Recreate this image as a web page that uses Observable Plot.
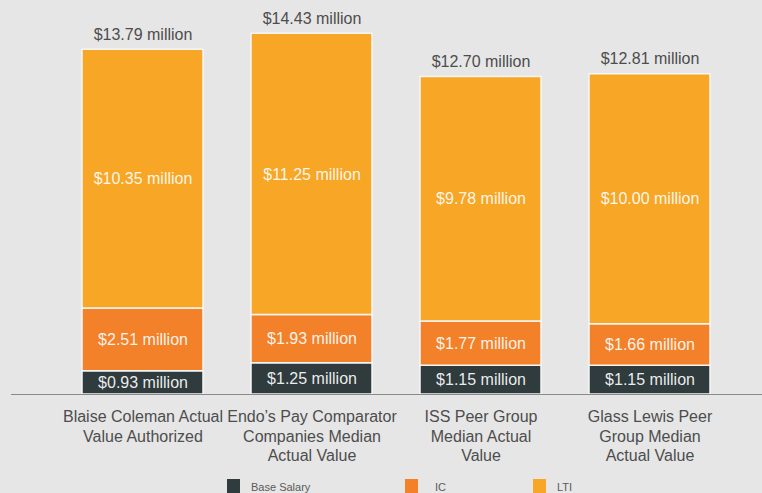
<!DOCTYPE html>
<html>
<head>
<meta charset="utf-8">
<script src="https://cdn.jsdelivr.net/npm/d3@7"></script>
<script src="https://cdn.jsdelivr.net/npm/@observablehq/plot@0.6"></script>
<style>
  html, body { margin: 0; padding: 0; background: #e6e6e6; width: 762px; height: 493px; overflow: hidden; }
  #wrap { position: relative; width: 762px; height: 493px; font-family: "Liberation Sans", Arial, sans-serif; }
  #wrap svg { position: absolute; left: 0; top: 0; }
  .sw { position: absolute; width: 13px; height: 14px; top: 479px; }
  .lt { position: absolute; top: 482px; font-size: 11px; line-height: 11px; color: #5a5a5a; }
</style>
</head>
<body>
<div id="wrap"></div>
<script>
const categories = [
  "Blaise Coleman Actual\nValue Authorized",
  "Endo's Pay Comparator\nCompanies Median\nActual Value",
  "ISS Peer Group\nMedian Actual\nValue",
  "Glass Lewis Peer\nGroup Median\nActual Value"
];
const seriesNames = ["Base Salary", "IC", "LTI"];
const baseSalary = [0.93, 1.25, 1.15, 1.15];
const ic = [2.51, 1.93, 1.77, 1.66];
const lti = [10.35, 11.25, 9.78, 10.00];
const totals = [13.79, 14.43, 12.70, 12.81];
const colors = ["#2f3b3d", "#f3812a", "#f7a626"];

const seriesValues = [baseSalary, ic, lti];
const rows = [];
categories.forEach((c, i) => {
  seriesNames.forEach((s, j) => rows.push({category: c, series: s, value: seriesValues[j][i]}));
});
const totalRows = categories.map((c, i) => ({category: c, total: totals[i]}));
const fmt = v => "$" + v.toFixed(2) + " million";

const chart = Plot.plot({
  width: 762,
  height: 472,
  marginTop: 0,
  marginBottom: 78,
  marginLeft: 11,
  marginRight: 0,
  style: {background: "transparent", fontFamily: "'Liberation Sans', Arial, sans-serif"},
  x: {domain: categories, paddingInner: 0.2845, paddingOuter: 0.3548, align: 0.577, axis: null},
  y: {domain: [0, 15.76], axis: null},
  color: {domain: seriesNames, range: colors},
  marks: [
    Plot.barY(rows, Plot.stackY({x: "category", y: "value", fill: "series", order: seriesNames, stroke: "#f6f6f6", strokeWidth: 1.5})),
    Plot.text(rows, Plot.stackY({
      x: "category", y: "value", z: "series", order: seriesNames,
      text: d => fmt(d.value), fill: "#ffffff", fillOpacity: 0.92, fontSize: 16
    })),
    Plot.ruleY([0], {stroke: "#8a8a8a", strokeWidth: 1.2}),
    Plot.text(totalRows, {x: "category", y: "total", text: d => fmt(d.total), dy: -15, fill: "#4d4d4d", fontSize: 16}),
    Plot.text(categories, {x: d => d, frameAnchor: "bottom", lineAnchor: "top", dy: 14, lineHeight: 1.22, fill: "#4d4d4d", fontSize: 16, text: d => d.replace("'", "\u2019")})
  ]
});
const wrap = document.getElementById("wrap");
wrap.appendChild(chart);

// legend (HTML, below the plot)
const legendX = [[227, 251], [405, 435], [533, 557]];
seriesNames.forEach((s, j) => {
  const sw = document.createElement("div");
  sw.className = "sw";
  sw.style.left = legendX[j][0] + "px";
  sw.style.background = colors[j];
  wrap.appendChild(sw);
  const t = document.createElement("div");
  t.className = "lt";
  t.style.left = legendX[j][1] + "px";
  t.textContent = s;
  wrap.appendChild(t);
});
</script>
</body>
</html>
